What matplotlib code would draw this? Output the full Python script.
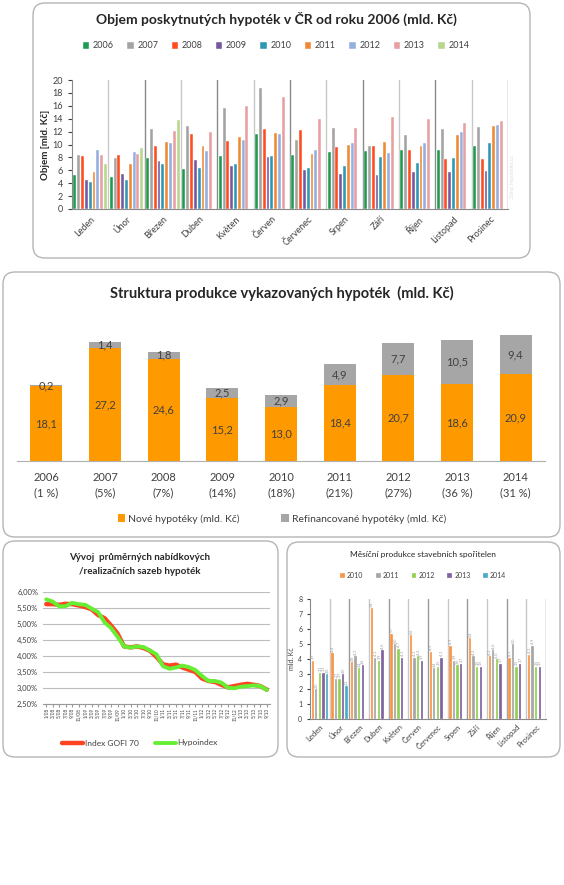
import numpy as np
import matplotlib
matplotlib.use('Agg')
import matplotlib.pyplot as plt
from matplotlib.patches import FancyBboxPatch, Patch
from matplotlib.lines import Line2D

plt.rcParams['font.family'] = ['Lato', 'DejaVu Sans']

W, H = 564, 885

months = ['Leden', 'Únor', 'Březen', 'Duben', 'Květen', 'Červen',
          'Červenec', 'Srpen', 'Září', 'Říjen', 'Listopad', 'Prosinec']

# --- objem poskytnutych hypotek (mld. Kc) ---
hyp_years = ['2006', '2007', '2008', '2009', '2010', '2011', '2012', '2013', '2014']
hyp_2006 = [5.2, 5.0, 7.9, 6.2, 8.2, 11.6, 8.4, 8.8, 9.0, 9.2, 9.1, 9.7]
hyp_2007 = [8.3, 7.9, 12.4, 12.8, 15.6, 18.7, 10.7, 12.5, 9.8, 11.5, 12.4, 12.7]
hyp_2008 = [8.2, 8.4, 9.8, 11.6, 10.6, 12.4, 12.2, 9.6, 9.8, 9.2, 7.8, 7.7]
hyp_2009 = [4.5, 5.5, 7.5, 7.6, 6.7, 8.1, 6.0, 5.4, 5.3, 5.7, 5.7, 5.9]
hyp_2010 = [4.2, 4.5, 7.0, 6.4, 7.0, 8.2, 6.4, 6.7, 8.0, 7.1, 7.9, 10.3]
hyp_2011 = [5.7, 7.0, 10.4, 9.7, 11.1, 11.8, 8.6, 9.9, 10.4, 9.8, 11.5, 12.9]
hyp_2012 = [9.2, 8.8, 10.3, 9.0, 10.7, 11.6, 9.1, 10.3, 8.7, 10.2, 12.0, 13.1]
hyp_2013 = [8.3, 8.6, 12.1, 11.9, 16.0, 17.3, 14.0, 12.5, 14.2, 14.0, 13.4, 13.6]
hyp_2014 = [6.9, 9.5, 13.8]
hyp_colors = ['#1f9a4f', '#a3a3a3', '#ff4b1f', '#7558a0', '#2f97b4',
              '#ef8a32', '#93afe0', '#e6a0a2', '#b8d68c']

# --- struktura produkce ---
struct_years = ['2006', '2007', '2008', '2009', '2010', '2011', '2012', '2013', '2014']
struct_pct = ['(1 %)', '(5%)', '(7%)', '(14%)', '(18%)', '(21%)', '(27%)', '(36 %)', '(31 %)']
nove = [18.1, 27.2, 24.6, 15.2, 13.0, 18.4, 20.7, 18.6, 20.9]
refin = [0.2, 1.4, 1.8, 2.5, 2.9, 4.9, 7.7, 10.5, 9.4]

# --- sazby ---
rate_labels = ['1/08', '3/08', '5/08', '7/08', '9/08', '11/08',
               '1/09', '3/09', '5/09', '7/09', '9/09', '11/09',
               '1/10', '3/10', '5/10', '7/10', '9/10', '11/10',
               '1/11', '3/11', '5/11', '7/11', '9/11', '11/11',
               '1/12', '3/12', '5/12', '7/12', '9/12', '11/12',
               '1/13', '3/13', '5/13', '7/13', '9/13']
gofi70 = [5.62, 5.62, 5.60, 5.63, 5.62, 5.58, 5.53, 5.46, 5.28, 5.18, 4.95, 4.70,
          4.30, 4.27, 4.30, 4.25, 4.16, 3.97, 3.74, 3.70, 3.73, 3.64, 3.57, 3.50,
          3.30, 3.22, 3.19, 3.10, 3.02, 3.06, 3.10, 3.13, 3.10, 3.06, 2.95]
hypoindex = [5.77, 5.70, 5.55, 5.56, 5.66, 5.62, 5.60, 5.48, 5.37, 5.05, 4.87, 4.60,
             4.30, 4.26, 4.30, 4.28, 4.17, 4.05, 3.68, 3.60, 3.64, 3.70, 3.65, 3.56,
             3.38, 3.22, 3.22, 3.17, 3.01, 2.99, 3.04, 3.06, 3.08, 3.06, 2.94]

# --- stavebni sporitelny ---
ss_years = ['2010', '2011', '2012', '2013', '2014']
ss_2010 = [3.9, 4.4, 3.8, 7.4, 5.7, 5.6, 4.5, 4.9, 5.4, 4.2, 4.1, 4.3]
ss_2011 = [2.0, 2.7, 4.2, 4.1, 5.0, 4.1, 3.4, 3.9, 4.2, 4.6, 5.0, 4.9]
ss_2012 = [3.1, 2.7, 3.4, 3.9, 4.7, 4.2, 3.5, 3.6, 3.5, 4.0, 3.5, 3.5]
ss_2013 = [3.1, 3.0, 3.6, 4.6, 4.1, 3.9, 4.1, 3.7, 3.5, 3.7, 3.7, 3.5]
ss_2014 = [3.0, 2.2]
ss_colors = ['#f79646', '#a6a6a6', '#92d050', '#8064a2', '#4bacc6']

fig = plt.figure(figsize=(W / 100, H / 100), dpi=100)


def px_axes(x0, y0, x1, y1):
    return fig.add_axes([x0 / W, 1 - y1 / H, (x1 - x0) / W, (y1 - y0) / H])


def box(x0, y0, x1, y1):
    p = FancyBboxPatch((x0 / 100, (H - y1) / 100), (x1 - x0) / 100, (y1 - y0) / 100,
                       boxstyle='round,pad=0,rounding_size=0.12',
                       transform=fig.dpi_scale_trans, fc='none', ec='#b5b5b5', lw=1)
    fig.patches.append(p)


def fx(x):
    return x / W


def fy(y):
    return 1 - y / H


# ================= panel 1 =================
box(33, 3, 530, 258)
fig.text(fx(276), fy(19), 'Objem poskytnutých hypoték v ČR od roku 2006 (mld. Kč)',
         ha='center', va='center', fontsize=10, fontweight='bold', color='#262626')
ax1 = px_axes(72, 80, 508, 209)
series = [hyp_2006, hyp_2007, hyp_2008, hyp_2009, hyp_2010, hyp_2011, hyp_2012, hyp_2013, hyp_2014]
slot = 0.105
for j, (vals, c) in enumerate(zip(series, hyp_colors)):
    x = np.arange(len(vals)) + (j - 4) * slot
    ax1.bar(x, vals, width=0.08, color=c, edgecolor='white', linewidth=0.3, label=hyp_years[j])
for k in range(12):
    ax1.axvline(k + 0.5, color='#c8c8c8' if k % 2 == 0 else '#8a8a8a', lw=1, zorder=0)
ax1.set_xlim(-0.5, 11.5)
ax1.set_ylim(0, 20)
ax1.set_yticks(range(0, 21, 2))
ax1.set_xticks(range(12))
ax1.set_xticklabels(months, rotation=45, ha='right', rotation_mode='anchor', fontsize=6.5, color='#404040')
ax1.tick_params(axis='y', labelsize=6.5, colors='#404040', length=3)
ax1.tick_params(axis='x', length=0, pad=4)
for s in ['top', 'right']:
    ax1.spines[s].set_visible(False)
ax1.spines['left'].set_color('#8a8a8a')
ax1.spines['bottom'].set_color('#8a8a8a')
ax1.set_ylabel('Objem [mld. Kč]', fontsize=7, fontweight='bold', color='#262626', labelpad=2)
ax1.text(1.005, 0.25, 'Zdroj: hypoindex.cz', transform=ax1.transAxes, rotation=90,
         fontsize=3.5, color='#dddddd', ha='left', va='center')
fig.legend(*ax1.get_legend_handles_labels(), loc='center', bbox_to_anchor=(fx(276), fy(46)),
           ncol=9, frameon=False, fontsize=6.5, handlelength=0.7, handleheight=0.7,
           handletextpad=0.4, columnspacing=1.5, labelcolor='#404040')

# ================= panel 2 =================
box(3, 272, 560, 537)
fig.text(fx(282), fy(293), 'Struktura produkce vykazovaných hypoték  (mld. Kč)',
         ha='center', va='center', fontsize=10.5, fontweight='bold', color='#262626')
ax2 = px_axes(17, 318, 545, 461)
xs = np.arange(len(nove))
b1 = ax2.bar(xs, nove, width=0.55, color='#ff9900', label='Nové hypotéky (mld. Kč)')
b2 = ax2.bar(xs, refin, width=0.55, bottom=nove, color='#a6a6a6', label='Refinancované hypotéky (mld. Kč)')
for i in range(len(nove)):
    ax2.text(xs[i], nove[i] / 2, f'{nove[i]:.1f}'.replace('.', ','), ha='center', va='center',
             fontsize=8, color='#404040')
    ax2.text(xs[i], nove[i] + refin[i] / 2, f'{refin[i]:.1f}'.replace('.', ','), ha='center',
             va='center', fontsize=8, color='#404040')
ax2.set_xlim(-0.5, len(nove) - 0.5)
ax2.set_ylim(0, 34.5)
ax2.set_yticks([])
ax2.set_xticks(xs)
ax2.set_xticklabels([f'{y}\n{p}' for y, p in zip(struct_years, struct_pct)], fontsize=8,
                    color='#404040', linespacing=1.5)
ax2.tick_params(axis='x', length=0, pad=8)
for s in ['top', 'right', 'left']:
    ax2.spines[s].set_visible(False)
ax2.spines['bottom'].set_color('#b0b0b0')
fig.legend(handles=[b1, b2], loc='center', bbox_to_anchor=(fx(282), fy(519)), ncol=2,
           frameon=False, fontsize=7.5, handlelength=0.7, handleheight=0.7, handletextpad=0.3,
           columnspacing=4, labelcolor='#404040')

# ================= panel 3 =================
box(3, 541, 278, 757)
fig.text(fx(140), fy(557), 'Vývoj  průměrných nabídkových', ha='center', va='center',
         fontsize=7, fontweight='bold', color='#262626')
fig.text(fx(140), fy(571), '/realizačních sazeb hypoték', ha='center', va='center',
         fontsize=7, fontweight='bold', color='#262626')
ax3 = px_axes(43, 592, 270, 704)
xr = np.arange(len(gofi70))
ax3.plot(xr, gofi70, color='#ff4422', lw=3.2, solid_capstyle='round', label='Index GOFI 70')
ax3.plot(xr, hypoindex, color='#66ee33', lw=2.8, solid_capstyle='round', label='Hypoindex')
ax3.set_ylim(2.5, 6.0)
ax3.set_xlim(-0.5, len(gofi70) - 0.5)
ax3.set_yticks(np.arange(2.5, 6.01, 0.5))
ax3.set_yticklabels([f'{v:.2f}%'.replace('.', ',') for v in np.arange(2.5, 6.01, 0.5)])
ax3.grid(axis='y', color='#bdbdbd', lw=0.8)
ax3.set_axisbelow(True)
ax3.set_xticks(xr)
ax3.set_xticklabels(rate_labels, rotation=90, fontsize=3.3, color='#404040')
ax3.tick_params(axis='y', labelsize=5.5, colors='#404040', length=0)
ax3.tick_params(axis='x', length=2, color='#999999', pad=1)
for s in ['top', 'right', 'left']:
    ax3.spines[s].set_visible(False)
ax3.spines['bottom'].set_color('#999999')
fig.legend(*ax3.get_legend_handles_labels(), loc='center', bbox_to_anchor=(fx(140), fy(743)),
           ncol=2, frameon=False, fontsize=6, handlelength=2.5, handletextpad=0.2,
           columnspacing=2, labelcolor='#404040')

# ================= panel 4 =================
box(287, 542, 560, 757)
fig.text(fx(423), fy(555), 'Měsíční produkce stavebních spořitelen', ha='center', va='center',
         fontsize=6, color='#262626')
ax4 = px_axes(310, 599, 546, 719)
ss_series = [ss_2010, ss_2011, ss_2012, ss_2013, ss_2014]
slot4 = 0.18
for j, (vals, c) in enumerate(zip(ss_series, ss_colors)):
    x = np.arange(len(vals)) + (j - 2) * slot4
    ax4.bar(x, vals, width=0.12, color=c, edgecolor='white', linewidth=0.2, label=ss_years[j])
    for xi, v in zip(x, vals):
        ax4.text(xi, v + 0.08, f'{v:.1f}'.replace('.', ','), rotation=90, ha='center', va='bottom',
                 fontsize=2.8, color='#9a9a9a')
for k in range(12):
    ax4.axvline(k + 0.5, color='#c8c8c8' if k % 2 == 0 else '#9a9a9a', lw=1, zorder=0)
ax4.set_xlim(-0.5, 11.5)
ax4.set_ylim(0, 8)
ax4.set_yticks(range(0, 9))
ax4.set_xticks(range(12))
ax4.set_xticklabels(months, rotation=45, ha='right', rotation_mode='anchor', fontsize=5.5, color='#404040')
ax4.tick_params(axis='y', labelsize=5, colors='#404040', length=2)
ax4.tick_params(axis='x', length=0, pad=3)
for s in ['top', 'right']:
    ax4.spines[s].set_visible(False)
ax4.spines['left'].set_color('#8a8a8a')
ax4.spines['bottom'].set_color('#8a8a8a')
ax4.set_ylabel('mld. Kč', fontsize=5, color='#404040', labelpad=2)
fig.legend(*ax4.get_legend_handles_labels(), loc='center', bbox_to_anchor=(fx(423), fy(575)),
           ncol=5, frameon=False, fontsize=5, handlelength=0.7, handleheight=0.7,
           handletextpad=0.3, columnspacing=1.8, labelcolor='#404040')

fig.savefig('out.png', dpi=100, facecolor='white')
